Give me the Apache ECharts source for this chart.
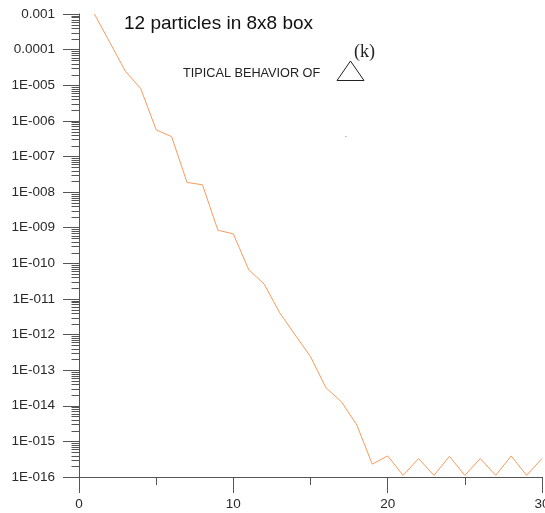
<!DOCTYPE html>
<html>
<head>
<meta charset="utf-8">
<script src="https://cdn.jsdelivr.net/npm/echarts@6/dist/echarts.min.js"></script>
<style>
  html, body { margin: 0; padding: 0; background: #ffffff; }
  #chart { width: 545px; height: 513px; }
</style>
</head>
<body>
<div id="chart"></div>
<script>
// Iteration index k
const steps = [1, 2, 3, 4, 5, 6, 7, 8, 9, 10, 11, 12, 13, 14, 15, 16, 17, 18, 19, 20,
               21, 22, 23, 24, 25, 26, 27, 28, 29, 30];
// Typical magnitude of the correction at each step
const delta = [1.0e-3, 1.58e-4, 2.5e-5, 8.0e-6, 5.6e-7, 3.6e-7, 1.87e-8, 1.6e-8, 8.5e-10, 6.7e-10,
               6.6e-11, 2.6e-11, 4.1e-12, 9.8e-13, 2.4e-13, 3.2e-14, 1.3e-14, 2.9e-15, 2.3e-16, 3.9e-16,
               1.11e-16, 3.3e-16, 1.11e-16, 3.8e-16, 1.11e-16, 3.3e-16, 1.11e-16, 3.9e-16, 1.11e-16, 3.3e-16];
// Decade labels, keyed by exponent
const decadeExponents = [-3, -4, -5, -6, -7, -8, -9, -10, -11, -12, -13, -14, -15, -16];
const decadeLabels = ['0.001', '0.0001', '1E-005', '1E-006', '1E-007', '1E-008', '1E-009',
                      '1E-010', '1E-011', '1E-012', '1E-013', '1E-014', '1E-015', '1E-016'];
const xTickLabels = ['0', '10', '20', '30'];

const axisGray = '#555555';
const textGray = '#2a2a2a';

// Minor log ticks at 2..9 x 10^n inside each decade
const minorTickValues = [];
for (let e = -16; e < -3; e++) {
  for (let m = 2; m <= 9; m++) minorTickValues.push([0, m * Math.pow(10, e)]);
}

const chart = echarts.init(document.getElementById('chart'), null, { renderer: 'canvas' });

chart.setOption({
  animation: false,
  backgroundColor: '#ffffff',
  grid: { left: 79, right: 3, top: 14, bottom: 36, containLabel: false, outerBoundsMode: 'none' },
  xAxis: {
    type: 'value',
    min: 0,
    max: 30,
    interval: 10,
    axisLine: { show: true, onZero: false, lineStyle: { color: axisGray, width: 1 } },
    axisTick: { show: true, length: 16, lineStyle: { color: axisGray, width: 1 } },
    minorTick: { show: true, splitNumber: 2, length: 8, lineStyle: { color: axisGray, width: 1 } },
    splitLine: { show: false },
    axisLabel: {
      margin: 20,
      fontFamily: 'Liberation Sans, Arial, sans-serif',
      fontSize: 13.5,
      color: textGray,
      formatter: function (v) {
        const i = Math.round(v / 10);
        return xTickLabels[i] !== undefined ? xTickLabels[i] : '';
      }
    }
  },
  yAxis: {
    type: 'log',
    logBase: 10,
    min: 1e-16,
    max: 1e-3,
    interval: 1,
    axisLine: { show: true, onZero: false, lineStyle: { color: axisGray, width: 1 } },
    axisTick: { show: true, length: 16, lineStyle: { color: axisGray, width: 1 } },
    splitLine: { show: false },
    axisLabel: {
      margin: 24,
      fontFamily: 'Liberation Sans, Arial, sans-serif',
      fontSize: 13.5,
      color: textGray,
      formatter: function (v) {
        const e = Math.round(Math.log10(v));
        const i = decadeExponents.indexOf(e);
        return i >= 0 ? decadeLabels[i] : '';
      }
    }
  },
  series: [
    {
      type: 'custom',
      silent: true,
      clip: false,
      z: 5,
      data: minorTickValues,
      renderItem: function (params, api) {
        const p = api.coord([api.value(0), api.value(1)]);
        const x = Math.round(p[0]) + 0.5;
        const y = Math.round(p[1]) + 0.5;
        return {
          type: 'line',
          shape: { x1: x - 8, y1: y, x2: x, y2: y },
          style: { stroke: axisGray, lineWidth: 1 }
        };
      }
    },
    {
      type: 'line',
      data: steps.map((k, i) => [k, delta[i]]),
      showSymbol: false,
      symbol: 'none',
      lineStyle: { color: '#fa9a5c', width: 1 },
      z: 3
    }
  ],
  graphic: [
    {
      type: 'text',
      left: 124, top: 14,
      style: {
        text: '12 particles in 8x8 box',
        font: '19px "Liberation Sans", Arial, sans-serif',
        fill: '#111111'
      }
    },
    {
      type: 'text',
      left: 183, top: 67,
      style: {
        text: 'TIPICAL BEHAVIOR OF',
        font: '12.7px "Liberation Sans", Arial, sans-serif',
        fill: '#222222'
      }
    },
    {
      type: 'polygon',
      shape: { points: [[337, 80.5], [350.5, 61], [364, 80.5]] },
      style: { fill: 'none', stroke: '#222222', lineWidth: 1 }
    },
    {
      type: 'text',
      left: 354, top: 43,
      style: {
        text: '(k)',
        font: '18px "Liberation Serif", "Times New Roman", serif',
        fill: '#222222'
      }
    },
    {
      type: 'circle',
      shape: { cx: 346, cy: 136.5, r: 0.6 },
      style: { fill: '#777777' }
    }
  ]
});
</script>
</body>
</html>
